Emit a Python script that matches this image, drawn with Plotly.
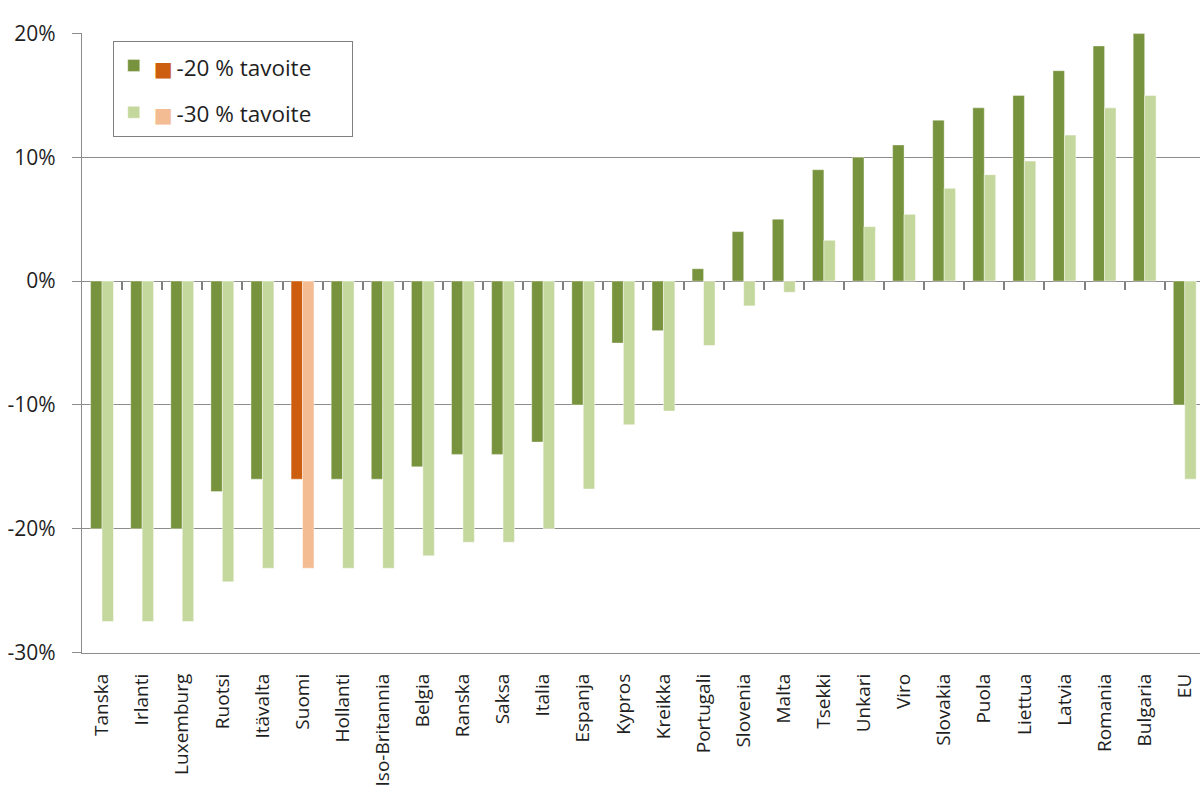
import plotly.graph_objects as go

# Maakohtaiset päästötavoitteet (muutos vuoteen 2005 verrattuna)
maat = ["Tanska", "Irlanti", "Luxemburg", "Ruotsi", "Itävalta", "Suomi", "Hollanti",
        "Iso-Britannia", "Belgia", "Ranska", "Saksa", "Italia", "Espanja", "Kypros",
        "Kreikka", "Portugali", "Slovenia", "Malta", "Tsekki", "Unkari", "Viro",
        "Slovakia", "Puola", "Liettua", "Latvia", "Romania", "Bulgaria", "EU"]

tavoite_20 = [-20, -20, -20, -17, -16, -16, -16, -16, -15, -14, -14, -13, -10, -5,
              -4, 1, 4, 5, 9, 10, 11, 13, 14, 15, 17, 19, 20, -10]

tavoite_30 = [-27.5, -27.5, -27.5, -24.3, -23.2, -23.2, -23.2, -23.2, -22.2, -21.1,
              -21.1, -20.0, -16.8, -11.6, -10.5, -5.2, -2.0, -0.9, 3.3, 4.4, 5.4,
              7.5, 8.6, 9.7, 11.8, 14.0, 15.0, -16.0]

korostettu = "Suomi"

VIHREA_TUMMA = "#78933D"
VIHREA_VAALEA = "#C4D79C"
ORANSSI_TUMMA = "#CD5D0F"
ORANSSI_VAALEA = "#F4BC92"
HARMAA = "#8C8C8C"
FONTTI = "Open Sans, DejaVu Sans, sans-serif"

Y_MIN, Y_MAX = -0.3005, 0.2005

vari_20 = [ORANSSI_TUMMA if m == korostettu else VIHREA_TUMMA for m in maat]
vari_30 = [ORANSSI_VAALEA if m == korostettu else VIHREA_VAALEA for m in maat]


def selite(vari, teksti):
    nelio = ("<span style='color:{};font-family:DejaVu Sans;font-size:20px'>"
             "\u25A0</span>").format(vari)
    return ("<span style='font-size:22.5px'>" + nelio + "\u2009" + teksti
            + "\u00a0" * 6 + "</span>")


fig = go.Figure()
fig.add_trace(go.Bar(
    x=maat, y=[v / 100 for v in tavoite_20],
    name=selite(ORANSSI_TUMMA, "-20 % tavoite"),
    marker=dict(color=vari_20, line=dict(color="rgba(255,255,255,0.35)", width=1)),
    legendgroup="a", hoverinfo="x+y",
))
fig.add_trace(go.Bar(
    x=maat, y=[v / 100 for v in tavoite_30],
    name=selite(ORANSSI_VAALEA, "-30 % tavoite"),
    marker=dict(color=vari_30, line=dict(color="rgba(255,255,255,0.45)", width=1)),
    legendgroup="b", hoverinfo="x+y",
))
# Näkymätön apusarja: nollaviivan jakoviivat piirretään sen omalle x-akselille
fig.add_trace(go.Scatter(
    x=list(range(len(maat))), y=[None] * len(maat), xaxis="x2", yaxis="y",
    mode="markers", showlegend=False, hoverinfo="skip",
))

x_alue = [-0.5, 27.38]
nolla_osuus = (0 - Y_MIN) / (Y_MAX - Y_MIN)

fig.update_layout(
    width=1200, height=798,
    margin=dict(l=82, r=0, t=33, b=145),
    paper_bgcolor="white", plot_bgcolor="white",
    font=dict(family=FONTTI, size=20, color="#1F1F1F"),
    barmode="group", bargap=0.43, bargroupgap=0.0,
    showlegend=True,
    legend=dict(
        x=0.0275, y=0.987, xanchor="left", yanchor="top",
        bordercolor="#7F7F7F", borderwidth=1, bgcolor="white",
        font=dict(family=FONTTI, size=26, color="#1F1F1F"),
        traceorder="grouped", tracegroupgap=10,
    ),
    xaxis=dict(
        type="category", range=x_alue,
        tickangle=-90, ticks="outside", ticklen=12, tickcolor="rgba(0,0,0,0)",
        showline=True, linecolor=HARMAA, linewidth=1.3,
        showgrid=False, tickfont=dict(family=FONTTI, size=19, color="#1F1F1F"),
    ),
    xaxis2=dict(
        overlaying="x", anchor="free", position=nolla_osuus, side="bottom",
        range=x_alue, tickmode="array",
        tickvals=[i + 0.5 for i in range(len(maat))],
        ticks="outside", ticklen=8, tickwidth=1.5, tickcolor="#808080",
        showticklabels=True, tickfont=dict(size=1, color="rgba(0,0,0,0)"),
        showgrid=False, zeroline=False, showline=False,
    ),
    yaxis=dict(
        range=[Y_MIN, Y_MAX], tickmode="array",
        tickvals=[-0.3, -0.2, -0.1, 0, 0.1, 0.2],
        ticktext=["-30%", "-20%", "-10%", "0%", "10%", "20%"],
        ticks="outside", ticklen=9, tickwidth=1.3, tickcolor=HARMAA,
        showgrid=True, gridcolor=HARMAA, gridwidth=1.3,
        zeroline=True, zerolinecolor=HARMAA, zerolinewidth=1.3,
        showline=True, linecolor=HARMAA, linewidth=1.3,
        ticklabelstandoff=12,
        tickfont=dict(family=FONTTI, size=21, color="#1F1F1F"),
    ),
)

fig.write_html("out.html")
